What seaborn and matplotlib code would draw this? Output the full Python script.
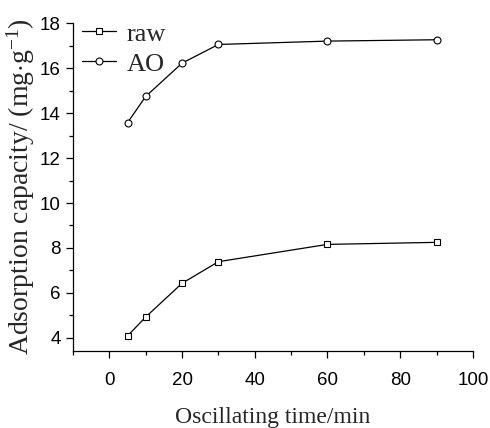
import numpy as np
import pandas as pd
import seaborn as sns
import matplotlib
matplotlib.use("Agg")
import matplotlib.pyplot as plt
from matplotlib.ticker import MultipleLocator

time_min = [5, 10, 20, 30, 60, 90]
raw_vals = [4.09, 4.93, 6.43, 7.39, 8.16, 8.25]
ao_vals = [13.57, 14.74, 16.22, 17.05, 17.20, 17.26]
series_names = ["raw", "AO"]

sns.set_theme(style="ticks")
plt.rcParams["font.family"] = ["Liberation Sans", "DejaVu Sans"]
plt.rcParams["mathtext.fontset"] = "custom"
plt.rcParams["mathtext.rm"] = "Liberation Serif"
plt.rcParams["mathtext.it"] = "Liberation Serif:italic"

fig = plt.figure(figsize=(4.9, 4.28), dpi=100)
ax = fig.add_axes([0.149, 0.180, 0.816, 0.766])

df = pd.concat([
    pd.DataFrame({"t": time_min, "q": raw_vals, "s": series_names[0]}),
    pd.DataFrame({"t": time_min, "q": ao_vals, "s": series_names[1]}),
])

for name, mk, ms in [("raw", "s", 5), ("AO", "o", 5)]:
    sub = df[df["s"] == name]
    sns.lineplot(data=sub, x="t", y="q", ax=ax, color="black", lw=0.9,
                 marker=mk, markersize=ms, markerfacecolor="white",
                 markeredgecolor="black", markeredgewidth=0.8, label=name)

ax.set_xlim(-10, 100)
ax.set_ylim(3.42, 18)
ax.xaxis.set_major_locator(MultipleLocator(20))
ax.xaxis.set_minor_locator(MultipleLocator(10))
ax.yaxis.set_major_locator(MultipleLocator(2))
ax.yaxis.set_minor_locator(MultipleLocator(1))
ax.tick_params(which="major", direction="out", length=5, width=0.9, labelsize=13.5, colors="black")
ax.tick_params(axis="x", which="major", pad=10)
ax.tick_params(axis="y", which="major", pad=4)
ax.tick_params(which="minor", direction="out", length=3, width=0.9, colors="black")
for s in ["top", "right"]:
    ax.spines[s].set_visible(False)
for s in ["left", "bottom"]:
    ax.spines[s].set_linewidth(0.9)
    ax.spines[s].set_color("black")

ax.set_xlabel("Oscillating time/min", fontsize=17, family="Liberation Serif", labelpad=13)
ax.set_ylabel(r"Adsorption capacity/ (mg$\cdot$g$^{-1}$)", fontsize=20, family="Liberation Serif", labelpad=2)

leg = ax.legend(loc="upper left", frameon=False, prop={"family": "Liberation Serif", "size": 19},
                handlelength=1.3, handletextpad=0.4, labelspacing=0.25,
                borderaxespad=0.0, bbox_to_anchor=(-0.005, 1.035))

fig.savefig("out.png", dpi=100)
